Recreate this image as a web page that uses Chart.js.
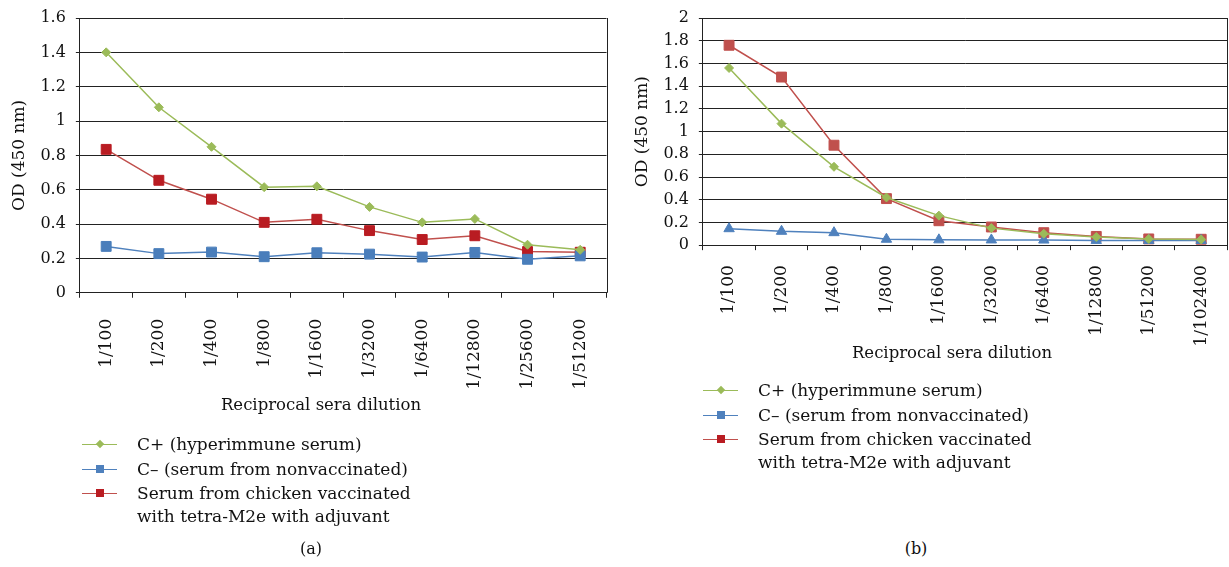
<!DOCTYPE html>
<html>
<head>
<meta charset="utf-8">
<script src="https://cdn.jsdelivr.net/npm/chart.js@4.4.1/dist/chart.umd.min.js"></script>
<style>
  html, body { margin: 0; padding: 0; background: #fff; }
  body { width: 1229px; height: 567px; position: relative; overflow: hidden;
         font-family: 'DejaVu Serif', serif; color: #111; }
  canvas { position: absolute; }
  #cA { left: 0px; top: 0px; }
  #cB { left: 623px; top: 0px; }
  .xt { position: absolute; font-size: 16.5px; white-space: nowrap; transform: translate(-50%, -50%); }
  .cap { position: absolute; font-size: 16px; transform: translate(-50%, -50%); }
  .legend { position: absolute; font-size: 17px; line-height: 25px; }
  .row { position: relative; height: 25px; white-space: nowrap; }
  .row.two { height: 48px; line-height: 23px; }
  .sw { position: absolute; left: 0; top: 12px; width: 35px; height: 0; border-top: 1.5px solid; }
  .mk { position: absolute; left: 13.5px; top: -5px; width: 8px; height: 8px; }
  .mk.dia { width: 6px; height: 6px; left: 14.5px; top: -4px; transform: rotate(45deg); }
  .txt { position: absolute; left: 55px; top: 0; }
</style>
</head>
<body>
<canvas id="cA" width="622" height="413"></canvas>
<canvas id="cB" width="614" height="364"></canvas>

<div class="xt" style="left:321px; top:404px;">Reciprocal sera dilution</div>
<div class="xt" style="left:952px; top:352px;">Reciprocal sera dilution</div>

<div class="legend" style="left:82px; top:432px;">
  <div class="row"><span class="sw" style="border-color:#9bbb59"><span class="mk dia" style="background:#9bbb59"></span></span><span class="txt">C+ (hyperimmune serum)</span></div>
  <div class="row"><span class="sw" style="border-color:#4f81bd"><span class="mk" style="background:#4f81bd"></span></span><span class="txt">C– (serum from nonvaccinated)</span></div>
  <div class="row two"><span class="sw" style="border-color:#c0504d; top:11px"><span class="mk" style="background:#b91c22"></span></span><span class="txt">Serum from chicken vaccinated<br>with tetra-M2e with adjuvant</span></div>
</div>

<div class="legend" style="left:703px; top:378px;">
  <div class="row"><span class="sw" style="border-color:#9bbb59"><span class="mk dia" style="background:#9bbb59"></span></span><span class="txt">C+ (hyperimmune serum)</span></div>
  <div class="row"><span class="sw" style="border-color:#4f81bd"><span class="mk" style="background:#4f81bd"></span></span><span class="txt">C– (serum from nonvaccinated)</span></div>
  <div class="row two"><span class="sw" style="border-color:#c0504d; top:11px"><span class="mk" style="background:#b91c22"></span></span><span class="txt">Serum from chicken vaccinated<br>with tetra-M2e with adjuvant</span></div>
</div>

<div class="cap" style="left:311px; top:548px;">(a)</div>
<div class="cap" style="left:916px; top:548px;">(b)</div>

<script>
// ---------- data ----------
const dilutionsA = ['1/100','1/200','1/400','1/800','1/1600','1/3200','1/6400','1/12800','1/25600','1/51200'];
const cPlusA  = [1.40, 1.08, 0.85, 0.615, 0.62, 0.50, 0.41, 0.43, 0.28, 0.25];
const cMinusA = [0.27, 0.228, 0.237, 0.21, 0.233, 0.225, 0.208, 0.235, 0.195, 0.215];
const vaccA   = [0.835, 0.655, 0.545, 0.41, 0.428, 0.362, 0.31, 0.332, 0.24, 0.236];

const dilutionsB = ['1/100','1/200','1/400','1/800','1/1600','1/3200','1/6400','1/12800','1/51200','1/102400'];
const cPlusB  = [1.56, 1.07, 0.69, 0.42, 0.26, 0.15, 0.10, 0.072, 0.055, 0.05];
const cMinusB = [0.145, 0.122, 0.11, 0.052, 0.047, 0.046, 0.045, 0.042, 0.042, 0.042];
const vaccB   = [1.76, 1.48, 0.88, 0.41, 0.215, 0.16, 0.11, 0.077, 0.055, 0.052];

const yTitle = 'OD (450 nm)';

Chart.defaults.font.family = "'DejaVu Serif', serif";
Chart.defaults.color = '#111';

const frame = {
  id: 'frame',
  afterDatasetsDraw(chart) {
    const {ctx, chartArea} = chart;
    const x = Math.round(chartArea.right) + 0.5;
    ctx.save();
    ctx.strokeStyle = '#222';
    ctx.lineWidth = 1;
    ctx.beginPath();
    ctx.moveTo(x, chartArea.top);
    ctx.lineTo(x, chartArea.bottom);
    ctx.stroke();
    ctx.restore();
  }
};

function makeChart(id, labels, sets, yMax, xFont, xPad, padBottom) {
  return new Chart(document.getElementById(id), {
    type: 'line',
    data: {
      labels: labels,
      datasets: sets.map(s => ({
        label: s.label,
        data: s.data,
        borderColor: s.color,
        backgroundColor: s.mcolor,
        pointBackgroundColor: s.mcolor,
        pointBorderColor: s.mcolor,
        pointStyle: s.style,
        pointRadius: s.r,
        pointBorderWidth: 1,
        borderWidth: 1.5,
        tension: 0,
        fill: false
      }))
    },
    options: {
      responsive: false,
      animation: false,
      devicePixelRatio: 1,
      layout: { padding: { left: 2, right: 4, top: 8, bottom: padBottom } },
      plugins: { legend: { display: false }, tooltip: { enabled: false } },
      scales: {
        x: {
          type: 'category',
          offset: true,
          grid: { offset: true, drawOnChartArea: false, drawTicks: true, tickLength: 5, color: '#222' },
          border: { display: true, color: '#222', width: 1 },
          ticks: { autoSkip: false, maxRotation: 90, minRotation: 90, padding: xPad,
                   font: { size: xFont }, color: '#111' }
        },
        y: {
          min: 0, max: yMax,
          grid: { color: '#222', lineWidth: 1, drawTicks: true, tickLength: 4 },
          border: { display: true, color: '#222', width: 1 },
          ticks: { stepSize: 0.2, autoSkip: false, padding: 10, font: { size: 16, lineHeight: 1 }, color: '#111',
                   callback: v => String(Math.round(v * 10) / 10) },
          title: { display: true, text: yTitle, font: { size: 17 }, padding: { top: 7, bottom: 1 }, color: '#111' }
        }
      }
    },
    plugins: [frame]
  });
}

makeChart('cA', dilutionsA, [
  { label: 'C+ (hyperimmune serum)', data: cPlusA, color: '#9bbb59', mcolor: '#9bbb59', style: 'rectRot', r: 4.5 },
  { label: 'C– (serum from nonvaccinated)', data: cMinusA, color: '#4f81bd', mcolor: '#4a7ebb', style: 'rect', r: 7 },
  { label: 'Serum from chicken vaccinated with tetra-M2e with adjuvant', data: vaccA, color: '#c0504d', mcolor: '#b91c22', style: 'rect', r: 7 }
], 1.6, 17, 21, 2.6);

makeChart('cB', dilutionsB, [
  { label: 'C+ (hyperimmune serum)', data: cPlusB, color: '#9bbb59', mcolor: '#9bbb59', style: 'rectRot', r: 4.5 },
  { label: 'C– (serum from nonvaccinated)', data: cMinusB, color: '#4f81bd', mcolor: '#4f81bd', style: 'triangle', r: 6 },
  { label: 'Serum from chicken vaccinated with tetra-M2e with adjuvant', data: vaccB, color: '#c0504d', mcolor: '#c0504d', style: 'rect', r: 7 }
], 2, 17, 15, 2.4);
</script>
</body>
</html>
